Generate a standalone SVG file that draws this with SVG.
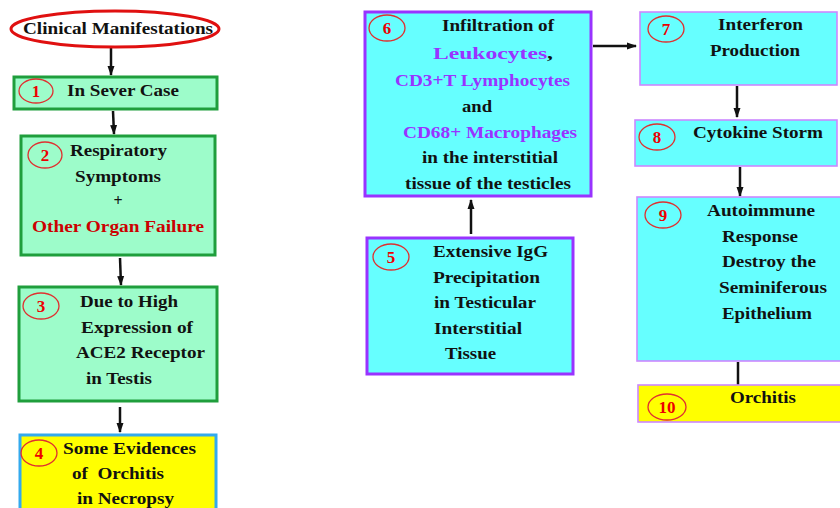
<svg xmlns="http://www.w3.org/2000/svg" width="840" height="508" viewBox="0 0 840 508">
<style>
text{font-family:"Liberation Serif","Times New Roman",serif;font-weight:bold;font-size:16px;fill:#111}
.g{fill:#9dfcca;stroke:#1f9e3c;stroke-width:3}
.c{fill:#66ffff;stroke:#9933ff;stroke-width:3}
.cl{fill:#66ffff;stroke:#cc88ff;stroke-width:1.6}
.y{fill:#ffff00;stroke:#33aaee;stroke-width:3}
.yl{fill:#ffff00;stroke:#cc88ff;stroke-width:1.6}
.num{fill:none;stroke:#e03030;stroke-width:1.3}
.n{fill:#ee0000;font-size:17px}
.p{fill:#9933ff}
.r{fill:#cc0000}
.a{stroke:#111;stroke-width:2.5;fill:none}
</style>
<defs>
<marker id="ah" markerUnits="userSpaceOnUse" markerWidth="10" markerHeight="10" refX="9" refY="5" orient="auto">
<path d="M0,1.5 L10,5 L0,8.5 Z" fill="#111"/>
</marker>
</defs>
<rect width="840" height="508" fill="#ffffff"/>

<g id="connectors">
<line class="a" x1="111" y1="48" x2="111" y2="75" marker-end="url(#ah)"/>
<line class="a" x1="113" y1="111" x2="114" y2="134" marker-end="url(#ah)"/>
<line class="a" x1="120" y1="258" x2="121" y2="285" marker-end="url(#ah)"/>
<line class="a" x1="120" y1="407" x2="120" y2="432" marker-end="url(#ah)"/>
<line class="a" x1="471" y1="234" x2="471" y2="200" marker-end="url(#ah)"/>
<line class="a" x1="593" y1="46" x2="636" y2="46" marker-end="url(#ah)"/>
<line class="a" x1="737" y1="86" x2="737" y2="117" marker-end="url(#ah)"/>
<line class="a" x1="740" y1="167" x2="740" y2="196" marker-end="url(#ah)"/>
<line class="a" x1="738" y1="362" x2="738" y2="385"/>
</g>

<g id="title">
<ellipse cx="115" cy="29" rx="104" ry="18" fill="#ffffff" stroke="#e01010" stroke-width="3"/>
<text x="23" y="34" textLength="190" lengthAdjust="spacingAndGlyphs">Clinical Manifestations</text>
</g>

<g id="node1">
<rect class="g" x="14" y="77" width="203" height="32"/>
<ellipse class="num" cx="36" cy="91" rx="17" ry="12"/>
<text class="n" x="36" y="97" text-anchor="middle">1</text>
<text x="67" y="96" textLength="112" lengthAdjust="spacingAndGlyphs">In Sever Case</text>
</g>

<g id="node2">
<rect class="g" x="21" y="136" width="194" height="119"/>
<ellipse class="num" cx="45" cy="155" rx="17" ry="13"/>
<text class="n" x="45" y="161" text-anchor="middle">2</text>
<text x="70" y="156" textLength="97" lengthAdjust="spacingAndGlyphs">Respiratory</text>
<text x="75" y="182" textLength="86" lengthAdjust="spacingAndGlyphs">Symptoms</text>
<text x="118" y="206" text-anchor="middle" font-size="18">+</text>
<text class="r" x="32" y="232" textLength="172" lengthAdjust="spacingAndGlyphs">Other Organ Failure</text>
</g>

<g id="node3">
<rect class="g" x="19" y="287" width="198" height="114"/>
<ellipse class="num" cx="41" cy="306" rx="18" ry="13"/>
<text class="n" x="41" y="312" text-anchor="middle">3</text>
<text x="80" y="307" textLength="98" lengthAdjust="spacingAndGlyphs">Due to High</text>
<text x="81" y="333" textLength="112" lengthAdjust="spacingAndGlyphs">Expression of</text>
<text x="76" y="358" textLength="129" lengthAdjust="spacingAndGlyphs">ACE2 Receptor</text>
<text x="86" y="384" textLength="66" lengthAdjust="spacingAndGlyphs">in Testis</text>
</g>

<g id="node4">
<rect class="y" x="20" y="435" width="196" height="80"/>
<ellipse class="num" cx="39" cy="453" rx="18" ry="13"/>
<text class="n" x="39" y="459" text-anchor="middle">4</text>
<text x="63" y="454" textLength="133" lengthAdjust="spacingAndGlyphs">Some Evidences</text>
<text x="72" y="479" textLength="92" lengthAdjust="spacingAndGlyphs" xml:space="preserve">of  Orchitis</text>
<text x="77" y="504" textLength="97" lengthAdjust="spacingAndGlyphs">in Necropsy</text>
</g>

<g id="node5">
<rect class="c" x="367" y="238" width="206" height="136"/>
<ellipse class="num" cx="391" cy="257" rx="18" ry="13"/>
<text class="n" x="391" y="263" text-anchor="middle">5</text>
<text x="433" y="257" textLength="115" lengthAdjust="spacingAndGlyphs">Extensive IgG</text>
<text x="433" y="283" textLength="107" lengthAdjust="spacingAndGlyphs">Precipitation</text>
<text x="434" y="308" textLength="102" lengthAdjust="spacingAndGlyphs">in Testicular</text>
<text x="434" y="334" textLength="88" lengthAdjust="spacingAndGlyphs">Interstitial</text>
<text x="445" y="359" textLength="51" lengthAdjust="spacingAndGlyphs">Tissue</text>
</g>

<g id="node6">
<rect class="c" x="365" y="12" width="226" height="184"/>
<ellipse class="num" cx="387" cy="28" rx="18" ry="13"/>
<text class="n" x="387" y="34" text-anchor="middle">6</text>
<text x="442" y="31" textLength="112" lengthAdjust="spacingAndGlyphs">Infiltration of</text>
<text x="433" y="59" font-size="21" textLength="120" lengthAdjust="spacingAndGlyphs"><tspan class="p">Leukocytes</tspan>,</text>
<text class="p" x="395" y="86" textLength="175" lengthAdjust="spacingAndGlyphs">CD3+T Lymphocytes</text>
<text x="462" y="112" textLength="30" lengthAdjust="spacingAndGlyphs">and</text>
<text class="p" x="403" y="138" textLength="174" lengthAdjust="spacingAndGlyphs">CD68+ Macrophages</text>
<text x="422" y="163" textLength="136" lengthAdjust="spacingAndGlyphs">in the interstitial</text>
<text x="405" y="189" textLength="166" lengthAdjust="spacingAndGlyphs">tissue of the testicles</text>
</g>

<g id="node7">
<rect class="cl" x="640" y="12" width="197" height="73"/>
<ellipse class="num" cx="666" cy="29" rx="18" ry="13"/>
<text class="n" x="666" y="35" text-anchor="middle">7</text>
<text x="718" y="30" textLength="85" lengthAdjust="spacingAndGlyphs">Interferon</text>
<text x="710" y="56" textLength="90" lengthAdjust="spacingAndGlyphs">Production</text>
</g>

<g id="node8">
<rect class="cl" x="635" y="120" width="202" height="46"/>
<ellipse class="num" cx="657" cy="137" rx="18" ry="13"/>
<text class="n" x="657" y="143" text-anchor="middle">8</text>
<text x="693" y="138" textLength="130" lengthAdjust="spacingAndGlyphs">Cytokine Storm</text>
</g>

<g id="node9">
<rect class="cl" x="637" y="197" width="210" height="164"/>
<ellipse class="num" cx="663" cy="215" rx="18" ry="13"/>
<text class="n" x="663" y="221" text-anchor="middle">9</text>
<text x="707" y="216" textLength="108" lengthAdjust="spacingAndGlyphs">Autoimmune</text>
<text x="722" y="242" textLength="76" lengthAdjust="spacingAndGlyphs">Response</text>
<text x="722" y="267" textLength="94" lengthAdjust="spacingAndGlyphs">Destroy the</text>
<text x="719" y="293" textLength="108" lengthAdjust="spacingAndGlyphs">Seminiferous</text>
<text x="722" y="319" textLength="90" lengthAdjust="spacingAndGlyphs">Epithelium</text>
</g>

<g id="node10">
<rect class="yl" x="638" y="385" width="210" height="37"/>
<ellipse class="num" cx="667" cy="407" rx="19" ry="13"/>
<text class="n" x="667" y="413" text-anchor="middle">10</text>
<text x="730" y="403" textLength="66" lengthAdjust="spacingAndGlyphs">Orchitis</text>
</g>
</svg>
